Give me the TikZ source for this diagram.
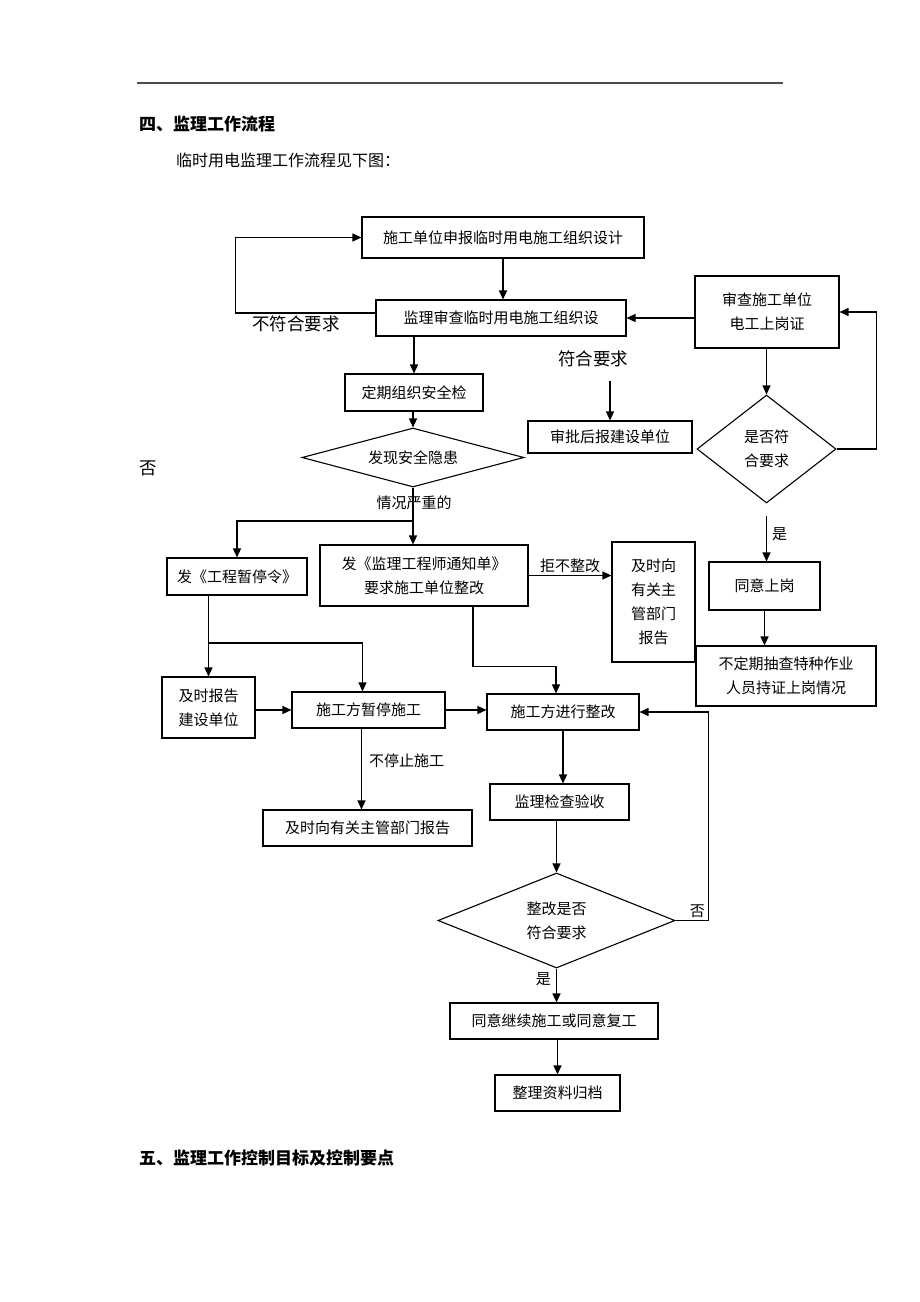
\documentclass[tikz,border=0pt]{standalone}
\usepackage{fontspec}
\setmainfont{Noto Sans CJK SC}
\usetikzlibrary{shapes.geometric, arrows.meta, positioning}
\newcommand{\boxfont}{\fontsize{15}{24}\selectfont}
\newcommand{\bigfont}{\fontsize{17.5}{22}\selectfont}
\tikzset{%
  box/.style={draw, line width=1.1pt, align=center, inner sep=2pt, font=\boxfont},
  decision/.style={diamond, draw, line width=1.1pt, align=center, inner sep=0pt, aspect=2, font=\boxfont},
  lbl/.style={inner sep=1pt, font=\boxfont},
  biglbl/.style={inner sep=1pt, font=\bigfont},
  flow/.style={draw, line width=1.2pt, -{Triangle[length=9pt, width=8pt]}}
}

\begin{document}
\begin{tikzpicture}[x=1pt, y=-1pt]
    \useasboundingbox (0,0) rectangle (920,1302);

    % page header
    \draw[line width=1.3pt, black!70] (137,83) -- (783,83);
    \node[anchor=west, inner sep=0pt, font=\fontsize{17}{20}\selectfont\bfseries] (head4) at (139,124) {四、监理工作流程};
    \node[anchor=west, inner sep=0pt, font=\fontsize{16}{20}\selectfont] (intro) at (176,160) {临时用电监理工作流程见下图：};

    % top part
    \node[box, minimum width=282, minimum height=41] (apply) at (503,237.5) {施工单位申报临时用电施工组织设计};
    \node[box, minimum width=250, minimum height=36] (review) at (501,318) {监理审查临时用电施工组织设};
    \node[box, minimum width=144, minimum height=72] (cert) at (767,312) {审查施工单位\\电工上岗证};
    \node[box, minimum width=164, minimum height=32] (report) at (610,437) {审批后报建设单位};
    \node[decision, minimum width=139, minimum height=108] (certok) at (766.5,449) {是否符\\合要求};
    \node[box, minimum width=111, minimum height=48] (agree) at (764.5,586) {同意上岗};
    \node[box, minimum width=180, minimum height=60] (spot) at (786,676) {不定期抽查特种作业\\人员持证上岗情况};

    \node[biglbl] (notok) at (296,324) {不符合要求};
    \node[biglbl] (ok) at (593,359) {符合要求};

    \draw[flow] (apply.south) -- (apply.south |- review.north);
    \draw[flow] ([yshift=5pt]review.west) -- ++(-140,0) |- (apply.west);
    \draw[flow] (cert.west |- review.east) -- (review.east);
    \draw[flow] ([yshift=-13pt]report.north |- ok.south) -- (report.north);
    \draw[flow] (certok.north |- cert.south) -- (certok.north);
    \draw[flow] (certok.east) -- ++(40,0) |- (cert.east);
    \draw[flow] ([yshift=-12pt]certok.south) -- node[lbl, right=4pt, pos=0.4] {是} (certok.south |- agree.north);
    \draw[flow] (agree.south) -- (agree.south |- spot.north);

    % safety inspection
    \node[box, minimum width=138, minimum height=37] (inspect) at (414,392.5) {定期组织安全检};
    \node[decision, minimum width=222, minimum height=59] (hazard) at (413,457.5) {发现安全隐患};
    \node[biglbl] (no1) at (148,468) {否};
    \node[lbl] (serious) at (414,503) {情况严重的};

    \node[box, minimum width=208, minimum height=61] (notice) at (424,575.5) {发《监理工程师通知单》\\要求施工单位整改};
    \node[box, minimum width=140, minimum height=37] (stoporder) at (237,576.5) {发《工程暂停令》};
    \node[box, minimum width=83, minimum height=120] (tellgov) at (653.5,602) {及时向\\有关主\\管部门\\报告};
    \node[box, minimum width=93, minimum height=61] (tellowner) at (208.5,707.5) {及时报告\\建设单位};
    \node[box, minimum width=153, minimum height=36] (halt) at (368.5,710) {施工方暂停施工};
    \node[box, minimum width=152, minimum height=36] (fix) at (563,712) {施工方进行整改};
    \node[box, minimum width=209, minimum height=36] (tellgov2) at (367.5,828) {及时向有关主管部门报告};

    \coordinate (split1) at (413,521);
    \coordinate (split2) at (209,643);

    \draw[flow] (review.south -| inspect.north) -- (inspect.north);
    \draw[flow] (inspect.south -| hazard.north) -- (hazard.north);
    \draw[flow] (hazard.south) -- (hazard.south |- notice.north);
    \draw[flow] (split1) -| (stoporder.north);
    \draw[flow] (notice.east) -- node[lbl, above=1pt] {拒不整改} (notice.east -| tellgov.west);
    \draw[flow] ([xshift=49pt]notice.south) -- ++(0,60) -| ([xshift=-7pt]fix.north);
    \draw[flow] (tellowner.north |- stoporder.south) -- (tellowner.north);
    \draw[flow] (split2) -| ([xshift=-6pt]halt.north);
    \draw[flow] (tellowner.east |- halt.west) -- (halt.west);
    \draw[flow] (halt.east) -- (halt.east -| fix.west);
    \draw[flow] ([xshift=-7pt]halt.south) -- node[lbl, right=6pt, pos=0.4] {不停止施工} ([xshift=-7pt]halt.south |- tellgov2.north);

    % rectification
    \node[box, minimum width=139, minimum height=36] (accept) at (559.5,802) {监理检查验收};
    \node[decision, minimum width=237, minimum height=95] (fixok) at (556.5,920.5) {整改是否\\符合要求};
    \node[box, minimum width=208, minimum height=36] (resume) at (554,1021) {同意继续施工或同意复工};
    \node[box, minimum width=125, minimum height=36] (archive) at (557.5,1093) {整理资料归档};

    \draw[flow] (fix.south) -- (fix.south |- accept.north);
    \draw[flow] (accept.south -| fixok.north) -- (fixok.north);
    \draw[flow] (fixok.east) -- ++(33,0) node[lbl, above left=1pt and 2pt] {否} |- (fix.east);
    \draw[flow] (fixok.south) -- node[lbl, left=4pt, pos=0.3] {是} (fixok.south |- resume.north);
    \draw[flow] (resume.south -| archive.north) -- (archive.north);

    \node[anchor=west, inner sep=0pt, font=\fontsize{17}{20}\selectfont\bfseries] (head5) at (139,1158) {五、监理工作控制目标及控制要点};
\end{tikzpicture}
\end{document}
